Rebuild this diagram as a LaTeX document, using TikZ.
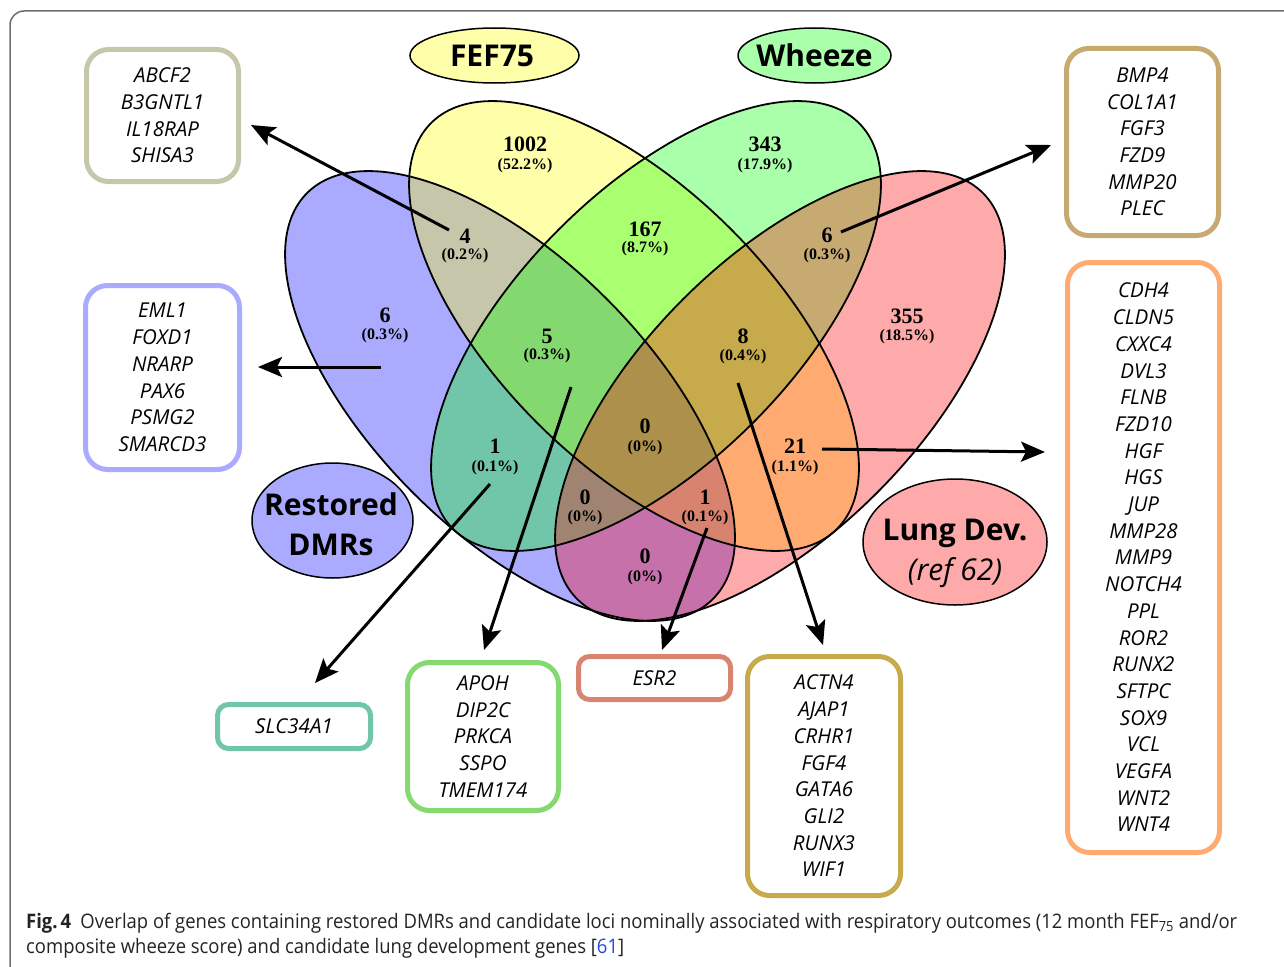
\documentclass[tikz,border=0pt]{standalone}
\usepackage{fontspec}
\setmainfont{Open Sans}
\newfontfamily\vennfont{Liberation Serif}
\usetikzlibrary{arrows.meta,shapes.geometric}
\definecolor{setA}{RGB}{0,0,255}
\definecolor{setB}{RGB}{255,255,0}
\definecolor{setC}{RGB}{0,255,0}
\definecolor{setD}{RGB}{255,0,0}
\definecolor{labA}{RGB}{170,170,255}
\definecolor{labB}{RGB}{255,255,170}
\definecolor{labC}{RGB}{170,255,170}
\definecolor{labD}{RGB}{255,170,170}
\definecolor{bxAB}{RGB}{198,198,170}
\definecolor{bxCD}{RGB}{198,170,113}
\definecolor{bxA}{RGB}{170,170,255}
\definecolor{bxBD}{RGB}{255,170,113}
\definecolor{bxAC}{RGB}{113,198,170}
\definecolor{bxABC}{RGB}{132,217,113}
\definecolor{bxABD}{RGB}{217,132,113}
\definecolor{bxBCD}{RGB}{198,170,76}
\definecolor{framegray}{RGB}{110,110,110}
\definecolor{captext}{RGB}{35,35,35}
\definecolor{reflink}{RGB}{40,70,220}
\newsavebox\capboxA
\newlength\capwidthA
\tikzset{
  vennline/.style={line width=1.8pt, draw=black},
  num/.style={font=\vennfont\bfseries\fontsize{22}{22}\selectfont, inner sep=0pt},
  pct/.style={font=\vennfont\bfseries\fontsize{16}{16}\selectfont, inner sep=0pt},
  genebox/.style={draw, line width=5pt, rounded corners=22pt, minimum width=152pt, inner sep=0pt, align=center, font=\itshape\fontsize{20.5}{26.7}\selectfont},
  smallbox/.style={genebox, rounded corners=11pt},
  setoval/.style={draw=black, line width=1.5pt},
  settext/.style={inner sep=0pt, align=center, font=\bfseries\fontsize{30}{40}\selectfont},
  arr/.style={line width=3pt, -{Stealth[length=24pt, width=20pt, inset=5pt]}},
}
\begin{document}
\sbox\capboxA{\normalfont\color{captext}\fontsize{20}{25}\selectfont\textbf{Fig.\,4}\hspace{10pt}Overlap of genes containing restored DMRs and candidate loci nominally associated with respiratory outcomes (12 month FEF\textsubscript{75} and/or}%
\setlength\capwidthA{\wd\capboxA}%
\pgfmathsetmacro\capS{1211/\capwidthA}%
\begin{tikzpicture}[x=1pt, y=-1pt]
\useasboundingbox (0,0) rectangle (1284,966);
% frame
\begin{scope}
\clip (0,0) rectangle (1284,966);
\draw[framegray, line width=1.5pt, rounded corners=14pt] (10,11) rectangle (1330,1010);
\end{scope}
% Venn fills
\begin{scope}[fill opacity=0.3333]
\fill[setA, rotate around={-45:(510,396)}] (510,396) ellipse [x radius=287pt, y radius=137pt];
\fill[setB, rotate around={-45:(634,326)}] (634,326) ellipse [x radius=287pt, y radius=137pt];
\fill[setC, rotate around={45:(656,326)}] (656,326) ellipse [x radius=287pt, y radius=137pt];
\fill[setD, rotate around={45:(780,396)}] (780,396) ellipse [x radius=287pt, y radius=137pt];
\end{scope}
\draw[vennline, rotate around={-45:(510,396)}] (510,396) ellipse [x radius=287pt, y radius=137pt];
\draw[vennline, rotate around={-45:(634,326)}] (634,326) ellipse [x radius=287pt, y radius=137pt];
\draw[vennline, rotate around={45:(656,326)}] (656,326) ellipse [x radius=287pt, y radius=137pt];
\draw[vennline, rotate around={45:(780,396)}] (780,396) ellipse [x radius=287pt, y radius=137pt];
% region labels
\node[num] (n1002) at (525,144) {1002}; \node[pct] (p1002) at (525,166) {(52.2\%)};
\node[num] (n343) at (765,144) {343}; \node[pct] (p343) at (765,166) {(17.9\%)};
\node[num] (nA) at (385,315) {6}; \node[pct] (pA) at (385,336) {(0.3\%)};
\node[num] (nAB) at (465,236) {4}; \node[pct] (pAB) at (465,256) {(0.2\%)};
\node[num] (nBC) at (645,229) {167}; \node[pct] (pBC) at (645,249) {(8.7\%)};
\node[num] (nCD) at (827,235) {6}; \node[pct] (pCD) at (827,256) {(0.3\%)};
\node[num] (nD) at (907,316) {355}; \node[pct] (pD) at (907,337) {(18.5\%)};
\node[num] (nABC) at (547,336) {5}; \node[pct] (pABC) at (547,356) {(0.3\%)};
\node[num] (nBCD) at (743,336) {8}; \node[pct] (pBCD) at (743,357) {(0.4\%)};
\node[num] (nABCD) at (645,426) {0}; \node[pct] (pABCD) at (645,448) {(0\%)};
\node[num] (nAC) at (495,446) {1}; \node[pct] (pAC) at (495,468) {(0.1\%)};
\node[num] (nBD) at (795,446) {21}; \node[pct] (pBD) at (795,468) {(1.1\%)};
\node[num] (nACD) at (585,497) {0}; \node[pct] (pACD) at (585,518) {(0\%)};
\node[num] (nABD) at (705,497) {1}; \node[pct] (pABD) at (705,518) {(0.1\%)};
\node[num] (nAD) at (645,556) {0}; \node[pct] (pAD) at (645,578) {(0\%)};
% set labels
\draw[setoval, fill=labB] (494.5,55.5) ellipse [x radius=84.5pt, y radius=27.5pt];
\node[settext] (fef) at (492,55.5) {FEF75};
\draw[setoval, fill=labC] (814.5,55.5) ellipse [x radius=76.5pt, y radius=27.5pt];
\node[settext] (whz) at (814.5,55.5) {Wheeze};
\draw[setoval, fill=labA] (332.5,520.5) ellipse [x radius=80.5pt, y radius=57.5pt];
\node[settext] (rdm) at (331,524) {Restored\\DMRs};
\draw[setoval, fill=labD] (955,542) ellipse [x radius=92pt, y radius=63pt];
\node[settext] (lung) at (955,553) {Lung Dev.\\{\mdseries\itshape (ref 62)}};
% gene boxes
\node[genebox, draw=bxAB, minimum height=132pt] (gAB) at (162.5,115.5) {ABCF2\\B3GNTL1\\IL18RAP\\SHISA3};
\node[genebox, draw=bxCD, minimum height=187pt] (gCD) at (1142.5,142) {BMP4\\COL1A1\\FGF3\\FZD9\\MMP20\\PLEC};
\node[genebox, draw=bxA, minimum width=154pt, minimum height=184pt] (gA) at (162.5,377.5) {EML1\\FOXD1\\NRARP\\PAX6\\PSMG2\\SMARCD3};
\node[genebox, draw=bxBD, minimum height=590pt] (gBD) at (1143.5,557.5) {CDH4\\CLDN5\\CXXC4\\DVL3\\FLNB\\FZD10\\HGF\\HGS\\JUP\\MMP28\\MMP9\\NOTCH4\\PPL\\ROR2\\RUNX2\\SFTPC\\SOX9\\VCL\\VEGFA\\WNT2\\WNT4};
\node[smallbox, draw=bxAC, minimum width=153pt, minimum height=44pt] (gAC) at (294,726.5) {SLC34A1};
\node[genebox, draw=bxABC, minimum width=151pt, minimum height=148pt] (gABC) at (483,736.5) {APOH\\DIP2C\\PRKCA\\SSPO\\TMEM174};
\node[smallbox, draw=bxABD, minimum height=43pt] (gABD) at (654.5,678) {ESR2};
\node[genebox, draw=bxBCD, minimum width=153pt, minimum height=239pt] (gBCD) at (824,776) {ACTN4\\AJAP1\\CRHR1\\FGF4\\GATA6\\GLI2\\RUNX3\\WIF1};
% arrows
\coordinate (a1s) at (449,230); \coordinate (a1e) at (251,125);
\coordinate (a2s) at (841,232); \coordinate (a2e) at (1051,145);
\coordinate (a3s) at (381,367); \coordinate (a3e) at (258,367);
\coordinate (a4s) at (490,484); \coordinate (a4e) at (315,683);
\coordinate (a5s) at (571,387); \coordinate (a5e) at (484,650);
\coordinate (a6s) at (707,528); \coordinate (a6e) at (662,650);
\coordinate (a7s) at (738,383); \coordinate (a7e) at (823,645);
\coordinate (a8s) at (822,449); \coordinate (a8e) at (1045,452);
\draw[arr] (a1s) -- (a1e);
\draw[arr] (a2s) -- (a2e);
\draw[arr] (a3s) -- (a3e);
\draw[arr] (a4s) -- (a4e);
\draw[arr] (a5s) -- (a5e);
\draw[arr] (a6s) -- (a6e);
\draw[arr] (a7s) -- (a7e);
\draw[arr] (a8s) -- (a8e);
% caption
\node[anchor=base west, inner sep=0pt] (cap1) at (26,928) {\scalebox{\capS}[1]{\usebox\capboxA}};
\node[anchor=base west, inner sep=0pt] (cap2) at (26,953) {\scalebox{\capS}[1]{\color{captext}\fontsize{20}{25}\selectfont composite wheeze score) and candidate lung development genes [{\color{reflink}61}]}};
\end{tikzpicture}
\end{document}
